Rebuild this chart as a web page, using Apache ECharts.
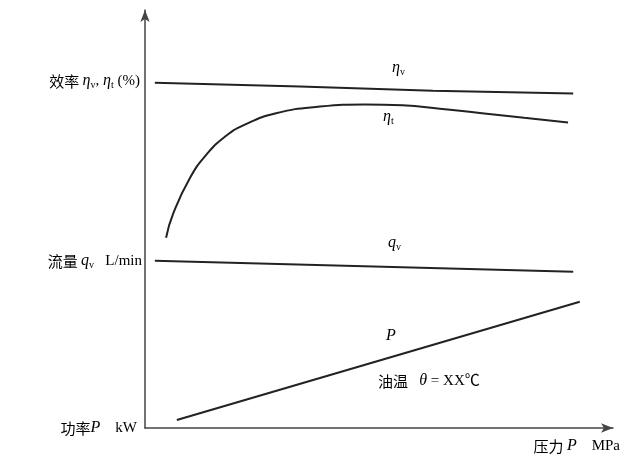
<!DOCTYPE html>
<html>
<head>
<meta charset="utf-8">
<script src="https://cdn.jsdelivr.net/npm/echarts@6/dist/echarts.min.js"></script>
<style>
  html, body { margin: 0; padding: 0; background: #fff; }
  #chart { width: 632px; height: 456px; }
</style>
</head>
<body>
<div id="chart"></div>
<script>
// schematic curves, x = pressure (0-100), y = relative value (0-100)
var etaV = [[2.1, 82.6], [33.1, 81.7], [61.5, 80.7], [91.5, 80.0]];
var etaT = [[4.5, 45.5], [6.0, 51.2], [9.6, 59.8], [13.2, 65.5], [17.0, 69.6], [21.0, 72.4],
            [28.0, 75.3], [37.4, 76.9], [47.0, 77.4], [55.0, 77.2], [63.0, 76.4],
            [72.0, 75.3], [81.0, 74.2], [90.4, 73.1]];
var qV = [[2.1, 40.0], [91.5, 37.4]];
var power = [[6.8, 1.9], [92.9, 30.2]];

var serif = '"Liberation Serif", "Noto Sans CJK SC", serif';
var cjk = '"Noto Sans CJK SC", sans-serif';
var txtColor = '#333';

var rich = {
    c: { fontFamily: cjk, fontSize: 15, color: txtColor },
    r: { fontFamily: serif, fontSize: 15, color: txtColor },
    i: { fontFamily: serif, fontSize: 16, fontStyle: 'italic', color: txtColor },
    s: { fontFamily: serif, fontSize: 10, color: txtColor, padding: [8, 0, 0, 0] }
};

function label(text, x, y, align) {
    return {
        type: 'text',
        x: x, y: y,
        style: {
            text: text,
            rich: rich,
            align: align || 'left',
            verticalAlign: 'middle'
        }
    };
}

var myChart = echarts.init(document.getElementById('chart'));
var lineStyle = { color: '#222', width: 2 };

myChart.setOption({
    backgroundColor: '#fff',
    animation: false,
    grid: { left: 145, right: 19, top: 10, bottom: 28 },
    xAxis: {
        type: 'value', min: 0, max: 100,
        axisLine: { show: true, symbol: ['none', 'arrow'], symbolSize: [7, 12], lineStyle: { color: '#444', width: 1.5 } },
        axisTick: { show: false }, axisLabel: { show: false }, splitLine: { show: false }
    },
    yAxis: {
        type: 'value', min: 0, max: 100,
        axisLine: { show: true, symbol: ['none', 'arrow'], symbolSize: [7, 12], lineStyle: { color: '#444', width: 1.5 } },
        axisTick: { show: false }, axisLabel: { show: false }, splitLine: { show: false }
    },
    series: [
        { name: 'ηv', type: 'line', data: etaV, showSymbol: false, lineStyle: lineStyle },
        { name: 'ηt', type: 'line', data: etaT, smooth: true, showSymbol: false, lineStyle: lineStyle },
        { name: 'qv', type: 'line', data: qV, showSymbol: false, lineStyle: lineStyle },
        { name: 'P', type: 'line', data: power, showSymbol: false, lineStyle: lineStyle }
    ],
    graphic: [
        label('{c|效率 }{i|η}{s|v}{r|, }{i|η}{s|t}{r| (%)}', 140, 81, 'right'),
        label('{c|流量 }{i|q}{s|v}{r|   L/min}', 142, 261, 'right'),
        label('{c|功率}{i|P}{r|    kW}', 137, 428, 'right'),
        label('{c|压力 }{i|P}{r|    MPa}', 620, 446, 'right'),
        label('{i|η}{s|v}', 392, 68),
        label('{i|η}{s|t}', 383, 117),
        label('{i|q}{s|v}', 388, 243),
        label('{i|P}', 386, 336),
        label('{c|油温}{r|   }{i|θ}{r| = XX℃}', 378, 381)
    ]
});
</script>
</body>
</html>
